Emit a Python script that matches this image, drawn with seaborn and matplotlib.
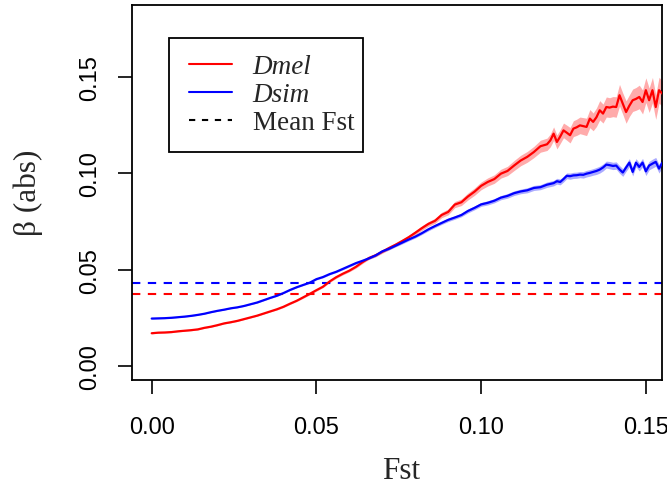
import numpy as np
import pandas as pd
import matplotlib
matplotlib.use("Agg")
import matplotlib.pyplot as plt
from matplotlib.lines import Line2D
from matplotlib.patches import Rectangle
import seaborn as sns

# ---------------- data ----------------
fst = [0.000, 0.002, 0.004, 0.006, 0.008, 0.010, 0.012, 0.014, 0.016, 0.018,
       0.020, 0.022, 0.024, 0.026, 0.028, 0.030, 0.032, 0.034, 0.036, 0.038,
       0.040, 0.042, 0.044, 0.046, 0.048, 0.050, 0.052, 0.054, 0.056, 0.058,
       0.060, 0.062, 0.064, 0.066, 0.068, 0.070, 0.072, 0.074, 0.076, 0.078,
       0.080, 0.082, 0.084, 0.086, 0.088, 0.090, 0.092, 0.094, 0.096, 0.098,
       0.100, 0.102, 0.104, 0.106, 0.108, 0.110, 0.112, 0.114, 0.116, 0.118,
       0.120, 0.121, 0.122, 0.123, 0.124, 0.125, 0.126, 0.127, 0.128, 0.129,
       0.130, 0.131, 0.132, 0.133, 0.134, 0.135, 0.136, 0.137, 0.138, 0.139,
       0.140, 0.141, 0.142, 0.143, 0.144, 0.145, 0.146, 0.147, 0.148, 0.149,
       0.150, 0.151, 0.152, 0.153, 0.154, 0.155, 0.156]

dmel_beta = [0.0172, 0.0175, 0.0176, 0.0178, 0.0182, 0.0185, 0.0188, 0.0192, 0.0200, 0.0206,
             0.0214, 0.0223, 0.0229, 0.0236, 0.0245, 0.0254, 0.0263, 0.0274, 0.0285, 0.0296,
             0.0309, 0.0325, 0.0340, 0.0358, 0.0376, 0.0395, 0.0413, 0.0440, 0.0462, 0.0480,
             0.0496, 0.0516, 0.0540, 0.0562, 0.0576, 0.0594, 0.0613, 0.0630, 0.0649, 0.0669,
             0.0692, 0.0716, 0.0738, 0.0754, 0.0784, 0.0800, 0.0838, 0.0850, 0.0880, 0.0905,
             0.0935, 0.0955, 0.0970, 0.0998, 0.1012, 0.1040, 0.1066, 0.1085, 0.1110, 0.1140,
             0.1150, 0.1170, 0.1205, 0.1162, 0.1190, 0.1222, 0.1210, 0.1197, 0.1231, 0.1238,
             0.1248, 0.1244, 0.1240, 0.1283, 0.1266, 0.1290, 0.1326, 0.1309, 0.1343, 0.1340,
             0.1345, 0.1343, 0.1404, 0.1360, 0.1317, 0.1350, 0.1378, 0.1385, 0.1395, 0.1369,
             0.1430, 0.1378, 0.1430, 0.1343, 0.1430, 0.1412, 0.1420]

dmel_se = [0.0003, 0.0003, 0.0003, 0.0003, 0.0003, 0.0003, 0.0003, 0.0003, 0.0003, 0.0003,
           0.0003, 0.0003, 0.0003, 0.0003, 0.0003, 0.0003, 0.0003, 0.0003, 0.0003, 0.0004,
           0.0004, 0.0004, 0.0004, 0.0005, 0.0005, 0.0005, 0.0005, 0.0006, 0.0006, 0.0006,
           0.0006, 0.0007, 0.0007, 0.0007, 0.0008, 0.0008, 0.0009, 0.0009, 0.0010, 0.0010,
           0.0011, 0.0012, 0.0012, 0.0013, 0.0014, 0.0015, 0.0016, 0.0017, 0.0018, 0.0019,
           0.0020, 0.0021, 0.0022, 0.0023, 0.0024, 0.0026, 0.0027, 0.0028, 0.0029, 0.0031,
           0.0032, 0.0033, 0.0035, 0.0036, 0.0036, 0.0038, 0.0039, 0.0040, 0.0041, 0.0042,
           0.0043, 0.0044, 0.0045, 0.0047, 0.0046, 0.0048, 0.0050, 0.0049, 0.0052, 0.0051,
           0.0052, 0.0053, 0.0056, 0.0055, 0.0058, 0.0056, 0.0058, 0.0059, 0.0061, 0.0062,
           0.0064, 0.0063, 0.0066, 0.0064, 0.0067, 0.0066, 0.0067]

dsim_beta = [0.0248, 0.0249, 0.0250, 0.0252, 0.0255, 0.0258, 0.0262, 0.0267, 0.0273, 0.0281,
             0.0288, 0.0294, 0.0301, 0.0306, 0.0313, 0.0322, 0.0331, 0.0343, 0.0355, 0.0366,
             0.0380, 0.0396, 0.0410, 0.0422, 0.0434, 0.0452, 0.0463, 0.0478, 0.0490, 0.0505,
             0.0520, 0.0535, 0.0547, 0.0560, 0.0575, 0.0596, 0.0609, 0.0625, 0.0641, 0.0657,
             0.0672, 0.0690, 0.0710, 0.0727, 0.0743, 0.0759, 0.0771, 0.0784, 0.0805, 0.0821,
             0.0839, 0.0847, 0.0858, 0.0874, 0.0883, 0.0897, 0.0906, 0.0912, 0.0924, 0.0928,
             0.0941, 0.0945, 0.0949, 0.0959, 0.0955, 0.0970, 0.0987, 0.0985, 0.0989, 0.0990,
             0.0993, 0.0992, 0.0998, 0.1002, 0.1007, 0.1012, 0.1019, 0.1030, 0.1045, 0.1042,
             0.1038, 0.1040, 0.1020, 0.1004, 0.1030, 0.1055, 0.1007, 0.1055, 0.1033, 0.1055,
             0.1010, 0.1040, 0.1050, 0.1059, 0.1024, 0.1055, 0.1050]

dsim_se = [0.0002, 0.0002, 0.0002, 0.0002, 0.0002, 0.0002, 0.0002, 0.0002, 0.0002, 0.0002,
           0.0002, 0.0002, 0.0002, 0.0002, 0.0002, 0.0002, 0.0003, 0.0003, 0.0003, 0.0003,
           0.0003, 0.0003, 0.0003, 0.0003, 0.0004, 0.0004, 0.0004, 0.0004, 0.0004, 0.0005,
           0.0005, 0.0005, 0.0005, 0.0005, 0.0006, 0.0006, 0.0006, 0.0006, 0.0007, 0.0007,
           0.0007, 0.0007, 0.0008, 0.0008, 0.0008, 0.0009, 0.0009, 0.0009, 0.0010, 0.0010,
           0.0010, 0.0011, 0.0011, 0.0011, 0.0012, 0.0012, 0.0012, 0.0013, 0.0013, 0.0013,
           0.0014, 0.0014, 0.0014, 0.0015, 0.0015, 0.0015, 0.0015, 0.0016, 0.0016, 0.0016,
           0.0016, 0.0017, 0.0017, 0.0017, 0.0017, 0.0018, 0.0018, 0.0018, 0.0018, 0.0019,
           0.0019, 0.0019, 0.0020, 0.0020, 0.0020, 0.0021, 0.0021, 0.0021, 0.0021, 0.0022,
           0.0022, 0.0022, 0.0023, 0.0023, 0.0023, 0.0023, 0.0023]

mean_fst_dmel = 0.0377
mean_fst_dsim = 0.0434

x_ticks = [0.00, 0.05, 0.10, 0.15]
y_ticks = [0.00, 0.05, 0.10, 0.15]
tick_labels_x = ["0.00", "0.05", "0.10", "0.15"]
tick_labels_y = ["0.00", "0.05", "0.10", "0.15"]
legend_labels = ["Dmel", "Dsim", "Mean Fst"]
x_label = "Fst"
y_label = "β (abs)"

# ---------------- styling ----------------
sns.set_theme(style="ticks")
plt.rcParams["font.family"] = ["Liberation Sans", "DejaVu Sans"]

RED = "#FF0000"
BLUE = "#0000FF"
SERIF = ["Liberation Serif", "DejaVu Serif"]

W, H = 667, 489
fig = plt.figure(figsize=(W / 100, H / 100), dpi=100)
L, R, T, B = 132, 662, 6, 381
ax = fig.add_axes([L / W, 1 - B / H, (R - L) / W, (B - T) / H])

df = pd.DataFrame({
    "fst": fst + fst,
    "beta": dmel_beta + dsim_beta,
    "se": dmel_se + dsim_se,
    "species": ["Dmel"] * len(fst) + ["Dsim"] * len(fst),
})

for sp, col in [("Dmel", RED), ("Dsim", BLUE)]:
    sub = df[df["species"] == sp]
    ax.fill_between(sub["fst"], sub["beta"] - sub["se"], sub["beta"] + sub["se"],
                    color=col, alpha=0.33, linewidth=0, zorder=1)

sns.lineplot(data=df, x="fst", y="beta", hue="species",
             palette={"Dmel": RED, "Dsim": BLUE}, linewidth=1.6,
             legend=False, ax=ax, zorder=3, errorbar=None)

ax.axhline(mean_fst_dsim, color=BLUE, linewidth=1.5, dashes=(4, 3.6), zorder=2)
ax.axhline(mean_fst_dmel, color=RED, linewidth=1.5, dashes=(4, 3.6), zorder=2)

ax.set_xlim(-0.00598, 0.1549)
ax.set_ylim(-0.0070, 0.1871)

ax.set_xticks(x_ticks)
ax.set_xticklabels(tick_labels_x)
ax.set_yticks(y_ticks)
ax.set_yticklabels(tick_labels_y, rotation=90, va="center")
ax.tick_params(axis="both", direction="out", length=10, width=1.2,
               color="black", labelsize=17, labelcolor="black")
ax.tick_params(axis="x", pad=16)
ax.tick_params(axis="y", pad=12)
ax.set_xlabel("")
ax.set_ylabel("")
for s in ax.spines.values():
    s.set_visible(True)
    s.set_color("black")
    s.set_linewidth(1.3)

# axis titles
fig.text(401 / W, 1 - 479 / H, x_label, family=SERIF, fontsize=22.5,
         ha="center", va="baseline")
fig.text(28 / W, 1 - 193 / H, y_label, family=SERIF, fontsize=22.5,
         rotation=90, ha="center", va="center")

# legend
handles = [Line2D([], [], color=RED, linewidth=1.5),
           Line2D([], [], color=BLUE, linewidth=1.5),
           Line2D([], [], color="black", linewidth=1.5, dashes=(3, 3.2))]
leg = fig.legend(handles, legend_labels, loc="upper left",
                 bbox_to_anchor=(189 / W, 1 - 55 / H),
                 frameon=False, prop={"family": SERIF, "size": 19.5},
                 handlelength=1.6, handletextpad=0.75, labelspacing=0.12,
                 borderpad=0.0, borderaxespad=0.0)
for i, txt in enumerate(leg.get_texts()):
    if i < 2:
        txt.set_fontstyle("italic")
fig.patches.append(Rectangle((169 / W, 1 - 153 / H), (363 - 169) / W, (153 - 39) / H,
                             transform=fig.transFigure, fill=False,
                             edgecolor="black", linewidth=1.3, zorder=5))

fig.savefig("out.png", dpi=100)
